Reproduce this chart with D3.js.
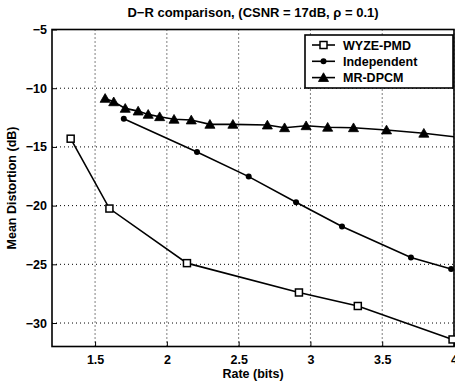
<!DOCTYPE html>
<html>
<head>
<meta charset="utf-8">
<script src="https://cdn.jsdelivr.net/npm/d3@7"></script>
<style>
  body { margin: 0; background: #fff; }
  text { font-family: "Liberation Sans", Arial, sans-serif; font-weight: bold; fill: #000; }
</style>
</head>
<body>
<svg id="chart" width="455" height="383"></svg>
<script>
// values
const seriesNames = ['WYZE-PMD', 'Independent', 'MR-DPCM'];

const wyzeRate = [1.33, 1.60, 2.14, 2.92, 3.33, 3.99];
const wyzeDist = [-14.3, -20.25, -24.9, -27.4, -28.55, -31.4];

const indepRate = [1.70, 2.21, 2.57, 2.90, 3.22, 3.70, 3.98];
const indepDist = [-12.6, -15.43, -17.53, -19.71, -21.78, -24.42, -25.4];

const mrRate = [1.57, 1.63, 1.71, 1.80, 1.87, 1.95, 2.05, 2.17, 2.30, 2.46, 2.70, 2.82, 2.97, 3.12, 3.30, 3.53, 3.79, 4.0];
const mrDist = [-10.87, -11.16, -11.72, -11.95, -12.23, -12.43, -12.65, -12.71, -13.08, -13.08, -13.14, -13.37, -13.2, -13.33, -13.37, -13.56, -13.84, -14.13];

const xTicks = [1.5, 2, 2.5, 3, 3.5, 4];
const yTicks = [-30, -25, -20, -15, -10, -5];

const svg = d3.select('#chart');
const mLeft = 52, mRight = 454, mTop = 29.5, mBottom = 346.5;

const x = d3.scaleLinear().domain([1.2, 4]).range([mLeft, mRight]);
const y = d3.scaleLinear().domain([-32, -5]).range([mBottom, mTop]);

// grid
const grid = svg.append('g').attr('stroke', '#000').attr('stroke-width', 1)
  .attr('stroke-dasharray', '1,3');
xTicks.forEach(t => {
  grid.append('line').attr('x1', x(t)).attr('x2', x(t)).attr('y1', mTop).attr('y2', mBottom);
});
yTicks.forEach(t => {
  grid.append('line').attr('x1', mLeft).attr('x2', mRight).attr('y1', y(t)).attr('y2', y(t));
});

// axes (ticks pointing inward like matlab)
const xAxis = svg.append('g').attr('transform', `translate(0,${mBottom})`)
  .call(d3.axisBottom(x).tickValues(xTicks).tickSizeInner(-5).tickSizeOuter(0).tickPadding(9).tickFormat(d3.format('')));
const yAxis = svg.append('g').attr('transform', `translate(${mLeft},0)`)
  .call(d3.axisLeft(y).tickValues(yTicks).tickSizeInner(-5).tickSizeOuter(0).tickPadding(5).tickFormat(d => d3.format('')(d).replace('-', '\u2212')));
[xAxis, yAxis].forEach(a => {
  a.select('.domain').remove();
  a.selectAll('text').attr('font-size', 12.5);
  a.selectAll('line').attr('stroke-width', 1);
});

svg.append('rect').attr('x', mLeft).attr('y', mTop).attr('width', mRight - mLeft).attr('height', mBottom - mTop)
  .attr('fill', 'none').attr('stroke', '#000').attr('stroke-width', 1.6);

// lines
const line = d3.line().x(d => x(d[0])).y(d => y(d[1]));
const series = [
  { name: seriesNames[0], pts: d3.zip(wyzeRate, wyzeDist), mark: 'square' },
  { name: seriesNames[1], pts: d3.zip(indepRate, indepDist), mark: 'dot' },
  { name: seriesNames[2], pts: d3.zip(mrRate, mrDist), mark: 'tri' }
];

function marker(g, kind, cx, cy) {
  if (kind === 'square') {
    g.append('rect').attr('x', cx - 3.5).attr('y', cy - 3.5).attr('width', 7).attr('height', 7)
      .attr('fill', '#fff').attr('stroke', '#000').attr('stroke-width', 1.5);
  } else if (kind === 'dot') {
    g.append('circle').attr('cx', cx).attr('cy', cy).attr('r', 3).attr('fill', '#000');
  } else {
    g.append('path').attr('d', d3.symbol(d3.symbolTriangle, 44)()).attr('transform', `translate(${cx},${cy + 1})`)
      .attr('fill', '#000').attr('stroke', '#000').attr('stroke-width', 0.8);
  }
}

series.forEach(s => {
  svg.append('path').datum(s.pts).attr('d', line)
    .attr('fill', 'none').attr('stroke', '#000').attr('stroke-width', 1.6);
  const g = svg.append('g');
  s.pts.forEach((p, i) => {
    if (s.mark === 'tri' && i === s.pts.length - 1) return;
    marker(g, s.mark, x(p[0]), y(p[1]));
  });
});

// legend
const lg = svg.append('g');
lg.append('rect').attr('x', 305).attr('y', 35).attr('width', 148).attr('height', 53)
  .attr('fill', '#fff').attr('stroke', '#000').attr('stroke-width', 1.6);
series.forEach((s, i) => {
  const ly = 45 + i * 16.3;
  lg.append('line').attr('x1', 312).attr('x2', 335).attr('y1', ly).attr('y2', ly)
    .attr('stroke', '#000').attr('stroke-width', 1.6);
  marker(lg, s.mark, 323.5, ly);
  lg.append('text').attr('x', 343).attr('y', ly + 4.5).attr('font-size', 12.5).text(s.name);
});

// titles
svg.append('text').attr('x', (mLeft + mRight) / 2).attr('y', 17).attr('text-anchor', 'middle')
  .attr('font-size', 13).text('D\u2212R comparison, (CSNR = 17dB, \u03c1 = 0.1)');
svg.append('text').attr('x', (mLeft + mRight) / 2).attr('y', 378).attr('text-anchor', 'middle')
  .attr('font-size', 12.5).text('Rate (bits)');
svg.append('text').attr('transform', `translate(16,${(mTop + mBottom) / 2}) rotate(-90)`).attr('text-anchor', 'middle')
  .attr('font-size', 12.5).text('Mean Distortion (dB)');
</script>
</body>
</html>
